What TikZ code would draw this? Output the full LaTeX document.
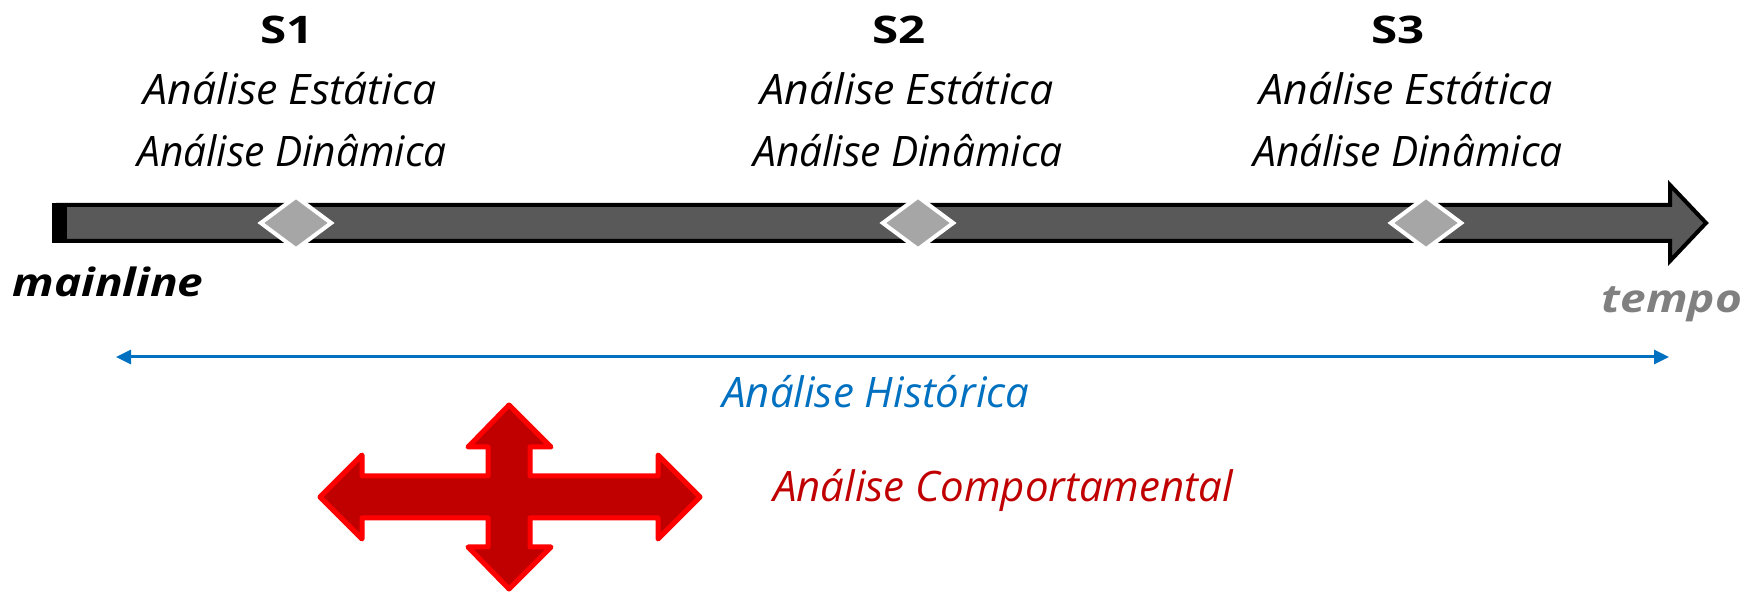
\documentclass[tikz,border=0pt]{standalone}
\usepackage{graphicx}
\usepackage{fontspec}
\setmainfont{Open Sans}
\usetikzlibrary{shapes.geometric,arrows.meta}
\definecolor{bodygray}{HTML}{595959}
\definecolor{diagray}{HTML}{A6A6A6}
\definecolor{histblue}{HTML}{0070C0}
\definecolor{darkred}{HTML}{C00000}
\definecolor{brightred}{HTML}{FF0000}
\definecolor{tempogray}{HTML}{808080}
\newcommand{\wx}[2]{\scalebox{#1}[1]{#2}}
\tikzset{
  snap/.style={diamond, draw=white, line width=2pt, fill=diagray, minimum width=36pt, minimum height=27pt, inner sep=0pt},
  slabel/.style={font=\fontsize{19}{22}\selectfont\bfseries, anchor=base, inner sep=0pt},
  alabel/.style={font=\fontsize{21}{24}\selectfont\itshape, anchor=base, inner sep=0pt},
  blabel/.style={font=\fontsize{19.5}{22}\selectfont\bfseries\itshape, anchor=base, inner sep=0pt},
}
\begin{document}
\begin{tikzpicture}[x=0.5pt,y=-0.5pt]
\useasboundingbox (0,0) rectangle (1750,592);
% mainline arrow
\draw[black, line width=2pt, fill=bodygray, line join=miter]
  (58,205) -- (1670,205) -- (1670,185) -- (1706,223) -- (1670,261) -- (1670,241) -- (58,241) -- cycle;
\fill[black] (52,203) rectangle (67,243);
% snapshots
\node[snap] (d1) at (296,223) {};
\node[snap] (d2) at (918,223) {};
\node[snap] (d3) at (1426,223) {};
% labels
\node[slabel] (s1) at (287,44) {\wx{1.25}{S1}};
\node[alabel] (s1a) at (290,105) {\wx{1.02}{Análise Estática}};
\node[alabel] (s1b) at (292,167) {\wx{0.97}{Análise Dinâmica}};
\node[slabel] (s2) at (899,44) {\wx{1.25}{S2}};
\node[alabel] (s2a) at (907,105) {\wx{1.02}{Análise Estática}};
\node[alabel] (s2b) at (908,167) {\wx{0.97}{Análise Dinâmica}};
\node[slabel] (s3) at (1398,44) {\wx{1.25}{S3}};
\node[alabel] (s3a) at (1406,105) {\wx{1.02}{Análise Estática}};
\node[alabel] (s3b) at (1408,167) {\wx{0.97}{Análise Dinâmica}};
\node[blabel] (ml) at (108,297) {\wx{1.18}{mainline}};
\node[blabel, text=tempogray] (tp) at (1672,313) {\wx{1.18}{tempo}};
% historical
\coordinate (hl) at (116,357);
\coordinate (hr) at (1669,357);
\draw[histblue, line width=1.5pt, {Triangle[length=7.5pt,width=7pt]}-{Triangle[length=7.5pt,width=7pt]}] (hl) -- (hr);
\node[alabel, text=histblue] (hist) at (876,408) {Análise Histórica};
% behavioural cross arrow
\draw[brightred, fill=darkred, line width=2.5pt, line join=round]
  (320,497) -- (362,455) -- (362,476) -- (488,476) -- (488,447) -- (468,447)
  -- (509,405) -- (551,447) -- (530,447) -- (530,476) -- (658,476) -- (658,455)
  -- (700,497) -- (658,539) -- (658,518) -- (530,518) -- (530,547) -- (551,547)
  -- (509,589) -- (468,547) -- (488,547) -- (488,518) -- (362,518) -- (362,539) -- cycle;
\node[alabel, text=darkred] (comp) at (1003,502) {Análise Comportamental};
\end{tikzpicture}
\end{document}
